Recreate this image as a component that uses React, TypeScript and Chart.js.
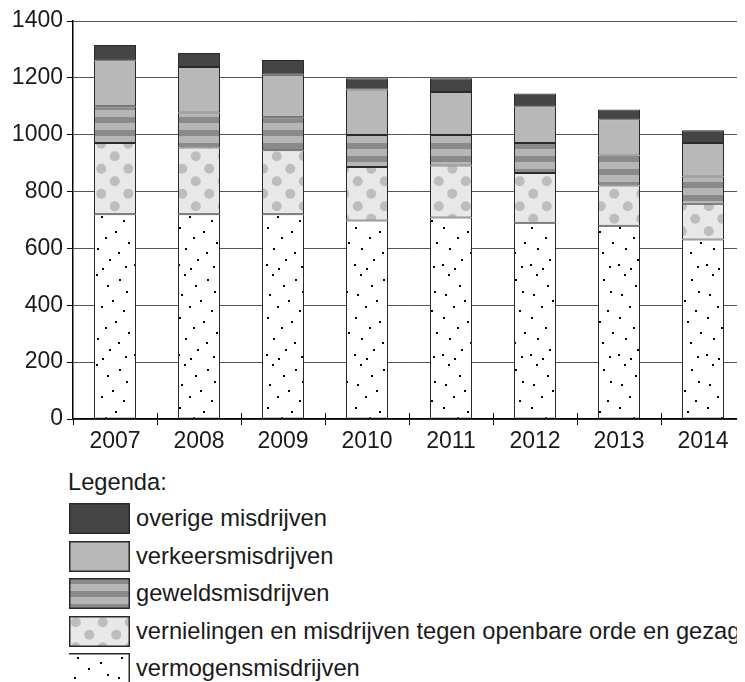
import React, { useEffect, useRef } from 'react';
import { Chart, registerables } from 'chart.js';

Chart.register(...registerables);

const categories = ['2007', '2008', '2009', '2010', '2011', '2012', '2013', '2014'];
const vermogens = [720, 720, 720, 698, 709, 690, 680, 631];
const vernielingen = [251, 235, 225, 188, 183, 175, 141, 126];
const geweld = [129, 123, 116, 113, 107, 106, 106, 96];
const verkeers = [162, 160, 150, 160, 151, 129, 127, 118];
const overige = [54, 49, 52, 40, 49, 45, 35, 45];

const yTicks = [0, 200, 400, 600, 800, 1000, 1200, 1400];

const legendLabels = [
  'overige misdrijven',
  'verkeersmisdrijven',
  'geweldsmisdrijven',
  'vernielingen en misdrijven tegen openbare orde en gezag',
  'vermogensmisdrijven',
];

const FONT = '"Liberation Sans", Arial, Helvetica, sans-serif';
const TEXT = '#1a1a1a';

// texture dot offsets inside a 44x90 tile (pattern texture only)
const speckles = [
  [8, 4], [31, 9], [19, 15], [38, 21], [5, 24], [24, 30], [13, 36], [35, 40],
  [3, 47], [27, 51], [17, 57], [40, 62], [9, 68], [30, 72], [21, 79], [2, 84],
  [37, 86], [14, 88],
];

function tile(w: number, h: number, draw: (c: CanvasRenderingContext2D) => void) {
  const c = document.createElement('canvas');
  c.width = w;
  c.height = h;
  const ctx = c.getContext('2d')!;
  draw(ctx);
  return c;
}

function makePatterns(ctx: CanvasRenderingContext2D) {
  const stripes = tile(8, 13, (c) => {
    c.fillStyle = '#b6b6b6';
    c.fillRect(0, 0, 8, 13);
    c.fillStyle = '#8a8a8a';
    c.fillRect(0, 0, 8, 6);
  });
  const dots = tile(27, 25, (c) => {
    c.fillStyle = '#e8e8e8';
    c.fillRect(0, 0, 27, 25);
    c.fillStyle = '#bdbdbd';
    const pts = [[6.75, 6.25], [20.25, 18.75], [-6.75, 18.75], [33.75, 6.25], [6.75, 31.25], [20.25, -6.25]];
    for (const [x, y] of pts) {
      c.beginPath();
      c.arc(x, y, 5, 0, Math.PI * 2);
      c.fill();
    }
  });
  const speck = tile(44, 90, (c) => {
    c.fillStyle = '#ffffff';
    c.fillRect(0, 0, 44, 90);
    c.fillStyle = '#000000';
    for (const [x, y] of speckles) {
      c.fillRect(x, y, 2, 2);
    }
  });
  return {
    overige: '#454545',
    verkeers: '#b8b8b8',
    geweld: ctx.createPattern(stripes, 'repeat')!,
    vernielingen: ctx.createPattern(dots, 'repeat')!,
    vermogens: ctx.createPattern(speck, 'repeat')!,
  };
}

const xTickPlugin = {
  id: 'xTicksUp',
  afterDraw(chart: any) {
    const { ctx, chartArea } = chart;
    const n = categories.length;
    const w = (chartArea.right - chartArea.left) / n;
    ctx.save();
    ctx.strokeStyle = '#000';
    ctx.lineWidth = 1;
    ctx.beginPath();
    for (let i = 1; i <= n; i++) {
      const x = Math.round(chartArea.left + i * w) + 0.5;
      ctx.moveTo(x, chartArea.bottom - 6);
      ctx.lineTo(x, chartArea.bottom);
    }
    ctx.stroke();
    ctx.restore();
  },
};

export default function App() {
  const canvasRef = useRef<HTMLCanvasElement>(null);
  const swatchRefs = useRef<(HTMLCanvasElement | null)[]>([]);

  useEffect(() => {
    const canvas = canvasRef.current!;
    const ctx = canvas.getContext('2d')!;
    const p = makePatterns(ctx);

    const ds = (label: string, data: number[], bg: any) => ({
      label,
      data,
      backgroundColor: bg,
      borderColor: '#2a2a2a',
      borderWidth: 1,
      borderSkipped: false as const,
      barPercentage: 0.5,
      categoryPercentage: 1.0,
    });

    const chart = new Chart(canvas, {
      type: 'bar',
      data: {
        labels: categories,
        datasets: [
          ds('vermogensmisdrijven', vermogens, p.vermogens),
          ds('vernielingen en misdrijven tegen openbare orde en gezag', vernielingen, p.vernielingen),
          ds('geweldsmisdrijven', geweld, p.geweld),
          ds('verkeersmisdrijven', verkeers, p.verkeers),
          ds('overige misdrijven', overige, p.overige),
        ],
      },
      options: {
        responsive: false,
        animation: false,
        devicePixelRatio: 1,
        layout: { padding: { top: 21, left: 0, right: 0, bottom: 0 } },
        plugins: { legend: { display: false }, tooltip: { enabled: false } },
        scales: {
          x: {
            stacked: true,
            grid: {
              display: true,
              drawOnChartArea: false,
              drawTicks: true,
              tickLength: 6,
              color: '#000',
              tickColor: '#000',
              offset: true,
            },
            border: { display: true, color: '#000', width: 1.5 },
            ticks: {
              color: TEXT,
              font: { family: FONT, size: 23 },
              padding: 3,
              maxRotation: 0,
            },
            afterFit: (s: any) => {
              s.height = 36;
            },
          },
          y: {
            stacked: true,
            min: 0,
            max: 1400,
            afterBuildTicks: (s: any) => {
              s.ticks = yTicks.map((v) => ({ value: v }));
            },
            grid: {
              color: '#555',
              lineWidth: 1,
              tickLength: 6,
              tickColor: '#000',
              drawTicks: true,
            },
            border: { display: true, color: '#000', width: 1.5 },
            ticks: {
              color: TEXT,
              font: { family: FONT, size: 23 },
              padding: 4,
              callback: (v: any) => String(v),
            },
            afterFit: (s: any) => {
              s.width = 73;
            },
          },
        },
      },
      plugins: [xTickPlugin],
    });

    swatchRefs.current.forEach((sc, i) => {
      if (!sc) return;
      const c = sc.getContext('2d')!;
      const pat = makePatterns(c);
      const f = [pat.overige, pat.verkeers, pat.geweld, pat.vernielingen, pat.vermogens][i];
      c.clearRect(0, 0, sc.width, sc.height);
      c.fillStyle = f as any;
      c.fillRect(0, 0, sc.width, sc.height);
      c.strokeStyle = '#2a2a2a';
      c.lineWidth = 1.5;
      if (i === 4) {
        c.beginPath();
        c.moveTo(0, 0.75);
        c.lineTo(sc.width - 0.75, 0.75);
        c.lineTo(sc.width - 0.75, sc.height);
        c.stroke();
      } else {
        c.strokeRect(0.75, 0.75, sc.width - 1.5, sc.height - 1.5);
      }
    });

    return () => chart.destroy();
  }, []);

  const rowTop = (i: number) => 503 + i * 37.5;

  return (
    <div
      style={{
        position: 'relative',
        width: 745,
        height: 682,
        marginTop: -8,
        marginLeft: -8,
        overflow: 'hidden',
        background: '#fff',
        fontFamily: FONT,
        color: TEXT,
      }}
    >
      <canvas ref={canvasRef} width={745} height={455} style={{ display: 'block', width: 745, height: 455 }} />
      <div style={{ position: 'absolute', left: 68, top: 470, fontSize: 23.7, lineHeight: '24px', whiteSpace: 'nowrap' }}>
        Legenda:
      </div>
      {legendLabels.map((lab, i) => (
        <React.Fragment key={lab}>
          <canvas
            ref={(el) => {
              swatchRefs.current[i] = el;
            }}
            width={61}
            height={31}
            style={{ position: 'absolute', left: 69, top: rowTop(i), width: 61, height: 31 }}
          />
          <div
            style={{
              position: 'absolute',
              left: 136,
              top: rowTop(i) + 3,
              fontSize: 23.7,
              lineHeight: '24px',
              whiteSpace: 'nowrap',
            }}
          >
            {lab}
          </div>
        </React.Fragment>
      ))}
    </div>
  );
}
